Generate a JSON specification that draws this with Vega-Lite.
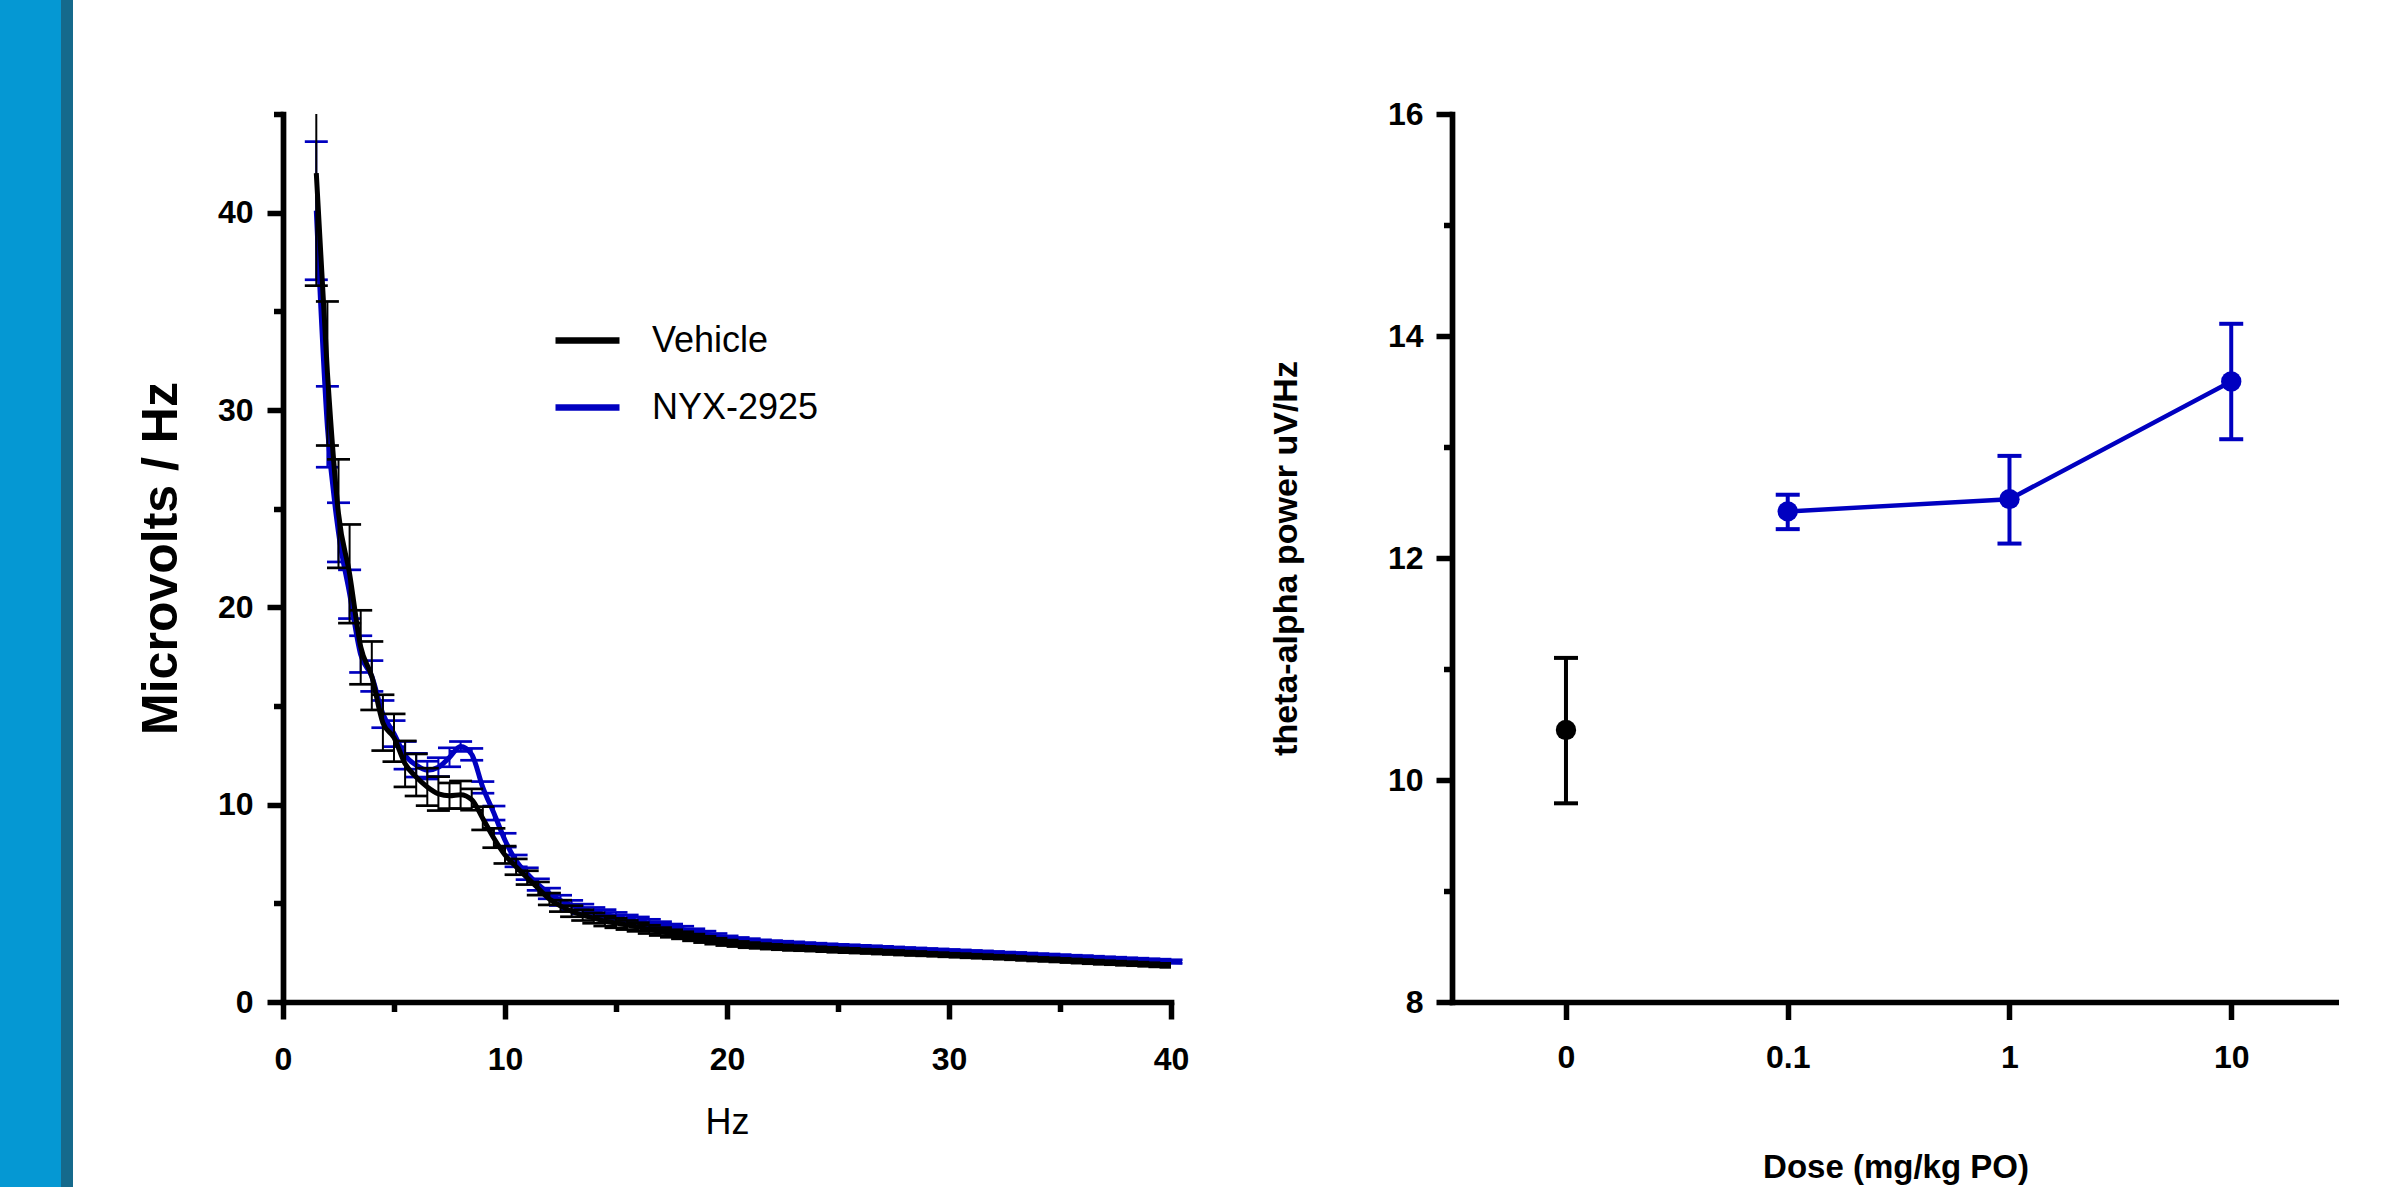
{
  "$schema": "https://vega.github.io/schema/vega-lite/v6.json",
  "padding": 0,
  "background": "white",
  "spacing": 0,
  "config": {
    "view": {"stroke": null},
    "font": "Liberation Sans",
    "concat": {"spacing": 0},
    "axis": {
      "domainColor": "#000000", "domainWidth": 5.7, "domainCap": "square",
      "tickColor": "#000000", "tickWidth": 5.5,
      "labelColor": "#000000", "titleColor": "#000000",
      "labelFont": "Liberation Sans", "titleFont": "Liberation Sans",
      "labelFontSize": 32, "labelFontWeight": "bold",
      "grid": false, "labelFlush": false, "labelOverlap": false
    }
  },
  "datasets": {
    "spectrum": [
      {"f":1.5,"g":"Vehicle","m":42.0,"lo":36.3,"hi":47.7},
      {"f":2.0,"g":"Vehicle","m":31.9,"lo":28.2,"hi":35.5},
      {"f":2.5,"g":"Vehicle","m":24.75,"lo":22.0,"hi":27.5},
      {"f":3.0,"g":"Vehicle","m":21.7,"lo":19.2,"hi":24.2},
      {"f":3.5,"g":"Vehicle","m":18.0,"lo":16.1,"hi":19.85},
      {"f":4.0,"g":"Vehicle","m":16.5,"lo":14.8,"hi":18.27},
      {"f":4.5,"g":"Vehicle","m":14.15,"lo":12.74,"hi":15.57},
      {"f":5.0,"g":"Vehicle","m":13.4,"lo":12.18,"hi":14.6},
      {"f":5.5,"g":"Vehicle","m":12.07,"lo":10.9,"hi":13.23},
      {"f":6.0,"g":"Vehicle","m":11.4,"lo":10.44,"hi":12.57},
      {"f":6.5,"g":"Vehicle","m":10.9,"lo":9.95,"hi":11.85},
      {"f":7.0,"g":"Vehicle","m":10.55,"lo":9.7,"hi":11.42},
      {"f":7.5,"g":"Vehicle","m":10.45,"lo":9.8,"hi":11.1},
      {"f":8.0,"g":"Vehicle","m":10.5,"lo":9.8,"hi":11.2},
      {"f":8.5,"g":"Vehicle","m":10.25,"lo":9.72,"hi":10.8},
      {"f":9.0,"g":"Vehicle","m":9.3,"lo":8.72,"hi":9.9},
      {"f":9.5,"g":"Vehicle","m":8.3,"lo":7.82,"hi":8.8},
      {"f":10.0,"g":"Vehicle","m":7.45,"lo":7.02,"hi":7.9},
      {"f":10.5,"g":"Vehicle","m":6.85,"lo":6.45,"hi":7.25},
      {"f":11.0,"g":"Vehicle","m":6.3,"lo":5.95,"hi":6.65},
      {"f":11.5,"g":"Vehicle","m":5.75,"lo":5.42,"hi":6.08},
      {"f":12.0,"g":"Vehicle","m":5.22,"lo":4.92,"hi":5.52},
      {"f":12.5,"g":"Vehicle","m":4.87,"lo":4.58,"hi":5.16},
      {"f":13.0,"g":"Vehicle","m":4.6,"lo":4.32,"hi":4.88},
      {"f":13.5,"g":"Vehicle","m":4.4,"lo":4.13,"hi":4.67},
      {"f":14.0,"g":"Vehicle","m":4.25,"lo":3.99,"hi":4.51},
      {"f":14.5,"g":"Vehicle","m":4.1,"lo":3.85,"hi":4.35},
      {"f":15.0,"g":"Vehicle","m":4.0,"lo":3.76,"hi":4.24},
      {"f":15.5,"g":"Vehicle","m":3.9,"lo":3.67,"hi":4.13},
      {"f":16.0,"g":"Vehicle","m":3.8,"lo":3.58,"hi":4.02},
      {"f":16.5,"g":"Vehicle","m":3.68,"lo":3.47,"hi":3.89},
      {"f":17.0,"g":"Vehicle","m":3.57,"lo":3.37,"hi":3.77},
      {"f":17.5,"g":"Vehicle","m":3.47,"lo":3.28,"hi":3.66},
      {"f":18.0,"g":"Vehicle","m":3.38,"lo":3.2,"hi":3.56},
      {"f":18.5,"g":"Vehicle","m":3.27,"lo":3.1,"hi":3.44},
      {"f":19.0,"g":"Vehicle","m":3.17,"lo":3.01,"hi":3.33},
      {"f":19.5,"g":"Vehicle","m":3.08,"lo":2.93,"hi":3.23},
      {"f":20.0,"g":"Vehicle","m":3.0,"lo":2.86,"hi":3.14},
      {"f":20.5,"g":"Vehicle","m":2.94,"lo":2.81,"hi":3.07},
      {"f":21.0,"g":"Vehicle","m":2.88,"lo":2.75,"hi":3.01},
      {"f":21.5,"g":"Vehicle","m":2.84,"lo":2.72,"hi":2.96},
      {"f":22.0,"g":"Vehicle","m":2.8,"lo":2.68,"hi":2.92},
      {"f":22.5,"g":"Vehicle","m":2.77,"lo":2.65,"hi":2.89},
      {"f":23.0,"g":"Vehicle","m":2.74,"lo":2.62,"hi":2.86},
      {"f":23.5,"g":"Vehicle","m":2.71,"lo":2.6,"hi":2.82},
      {"f":24.0,"g":"Vehicle","m":2.69,"lo":2.58,"hi":2.8},
      {"f":24.5,"g":"Vehicle","m":2.66,"lo":2.55,"hi":2.77},
      {"f":25.0,"g":"Vehicle","m":2.63,"lo":2.52,"hi":2.74},
      {"f":25.5,"g":"Vehicle","m":2.61,"lo":2.5,"hi":2.72},
      {"f":26.0,"g":"Vehicle","m":2.58,"lo":2.48,"hi":2.68},
      {"f":26.5,"g":"Vehicle","m":2.56,"lo":2.46,"hi":2.66},
      {"f":27.0,"g":"Vehicle","m":2.53,"lo":2.43,"hi":2.63},
      {"f":27.5,"g":"Vehicle","m":2.51,"lo":2.41,"hi":2.61},
      {"f":28.0,"g":"Vehicle","m":2.48,"lo":2.38,"hi":2.58},
      {"f":28.5,"g":"Vehicle","m":2.46,"lo":2.36,"hi":2.56},
      {"f":29.0,"g":"Vehicle","m":2.43,"lo":2.34,"hi":2.52},
      {"f":29.5,"g":"Vehicle","m":2.41,"lo":2.32,"hi":2.5},
      {"f":30.0,"g":"Vehicle","m":2.38,"lo":2.29,"hi":2.47},
      {"f":30.5,"g":"Vehicle","m":2.36,"lo":2.27,"hi":2.45},
      {"f":31.0,"g":"Vehicle","m":2.33,"lo":2.24,"hi":2.42},
      {"f":31.5,"g":"Vehicle","m":2.31,"lo":2.22,"hi":2.4},
      {"f":32.0,"g":"Vehicle","m":2.28,"lo":2.19,"hi":2.37},
      {"f":32.5,"g":"Vehicle","m":2.26,"lo":2.17,"hi":2.35},
      {"f":33.0,"g":"Vehicle","m":2.23,"lo":2.14,"hi":2.32},
      {"f":33.5,"g":"Vehicle","m":2.2,"lo":2.11,"hi":2.29},
      {"f":34.0,"g":"Vehicle","m":2.17,"lo":2.08,"hi":2.26},
      {"f":34.5,"g":"Vehicle","m":2.15,"lo":2.06,"hi":2.24},
      {"f":35.0,"g":"Vehicle","m":2.12,"lo":2.03,"hi":2.21},
      {"f":35.5,"g":"Vehicle","m":2.09,"lo":2.0,"hi":2.18},
      {"f":36.0,"g":"Vehicle","m":2.06,"lo":1.97,"hi":2.15},
      {"f":36.5,"g":"Vehicle","m":2.03,"lo":1.94,"hi":2.12},
      {"f":37.0,"g":"Vehicle","m":2.0,"lo":1.91,"hi":2.09},
      {"f":37.5,"g":"Vehicle","m":1.98,"lo":1.89,"hi":2.07},
      {"f":38.0,"g":"Vehicle","m":1.95,"lo":1.86,"hi":2.04},
      {"f":38.5,"g":"Vehicle","m":1.93,"lo":1.84,"hi":2.02},
      {"f":39.0,"g":"Vehicle","m":1.9,"lo":1.81,"hi":1.99},
      {"f":39.5,"g":"Vehicle","m":1.87,"lo":1.78,"hi":1.96},
      {"f":40.0,"g":"Vehicle","m":1.85,"lo":1.76,"hi":1.94},
      {"f":1.5,"g":"NYX-2925","m":40.1,"lo":36.6,"hi":43.6},
      {"f":2.0,"g":"NYX-2925","m":29.15,"lo":27.1,"hi":31.2},
      {"f":2.5,"g":"NYX-2925","m":23.8,"lo":22.3,"hi":25.3},
      {"f":3.0,"g":"NYX-2925","m":20.7,"lo":19.43,"hi":21.9},
      {"f":3.5,"g":"NYX-2925","m":17.6,"lo":16.7,"hi":18.56},
      {"f":4.0,"g":"NYX-2925","m":16.5,"lo":15.74,"hi":17.3},
      {"f":4.5,"g":"NYX-2925","m":14.6,"lo":13.9,"hi":15.28},
      {"f":5.0,"g":"NYX-2925","m":13.6,"lo":12.94,"hi":14.26},
      {"f":5.5,"g":"NYX-2925","m":12.5,"lo":11.8,"hi":13.2},
      {"f":6.0,"g":"NYX-2925","m":12.0,"lo":11.4,"hi":12.6},
      {"f":6.5,"g":"NYX-2925","m":11.75,"lo":11.3,"hi":12.2},
      {"f":7.0,"g":"NYX-2925","m":11.9,"lo":11.42,"hi":12.38},
      {"f":7.5,"g":"NYX-2925","m":12.4,"lo":11.92,"hi":12.88},
      {"f":8.0,"g":"NYX-2925","m":12.95,"lo":12.7,"hi":13.2},
      {"f":8.5,"g":"NYX-2925","m":12.55,"lo":12.25,"hi":12.85},
      {"f":9.0,"g":"NYX-2925","m":10.88,"lo":10.58,"hi":11.17},
      {"f":9.5,"g":"NYX-2925","m":9.57,"lo":9.22,"hi":9.93},
      {"f":10.0,"g":"NYX-2925","m":8.2,"lo":7.85,"hi":8.55},
      {"f":10.5,"g":"NYX-2925","m":7.15,"lo":6.85,"hi":7.45},
      {"f":11.0,"g":"NYX-2925","m":6.5,"lo":6.2,"hi":6.8},
      {"f":11.5,"g":"NYX-2925","m":5.95,"lo":5.66,"hi":6.24},
      {"f":12.0,"g":"NYX-2925","m":5.5,"lo":5.23,"hi":5.77},
      {"f":12.5,"g":"NYX-2925","m":5.15,"lo":4.89,"hi":5.41},
      {"f":13.0,"g":"NYX-2925","m":4.9,"lo":4.65,"hi":5.15},
      {"f":13.5,"g":"NYX-2925","m":4.72,"lo":4.48,"hi":4.96},
      {"f":14.0,"g":"NYX-2925","m":4.56,"lo":4.33,"hi":4.79},
      {"f":14.5,"g":"NYX-2925","m":4.45,"lo":4.22,"hi":4.68},
      {"f":15.0,"g":"NYX-2925","m":4.32,"lo":4.1,"hi":4.54},
      {"f":15.5,"g":"NYX-2925","m":4.2,"lo":3.99,"hi":4.41},
      {"f":16.0,"g":"NYX-2925","m":4.1,"lo":3.89,"hi":4.31},
      {"f":16.5,"g":"NYX-2925","m":3.99,"lo":3.79,"hi":4.19},
      {"f":17.0,"g":"NYX-2925","m":3.88,"lo":3.69,"hi":4.07},
      {"f":17.5,"g":"NYX-2925","m":3.77,"lo":3.59,"hi":3.95},
      {"f":18.0,"g":"NYX-2925","m":3.67,"lo":3.5,"hi":3.84},
      {"f":18.5,"g":"NYX-2925","m":3.55,"lo":3.39,"hi":3.71},
      {"f":19.0,"g":"NYX-2925","m":3.44,"lo":3.29,"hi":3.59},
      {"f":19.5,"g":"NYX-2925","m":3.33,"lo":3.19,"hi":3.47},
      {"f":20.0,"g":"NYX-2925","m":3.22,"lo":3.09,"hi":3.35},
      {"f":20.5,"g":"NYX-2925","m":3.15,"lo":3.03,"hi":3.27},
      {"f":21.0,"g":"NYX-2925","m":3.09,"lo":2.97,"hi":3.21},
      {"f":21.5,"g":"NYX-2925","m":3.04,"lo":2.93,"hi":3.15},
      {"f":22.0,"g":"NYX-2925","m":3.0,"lo":2.89,"hi":3.11},
      {"f":22.5,"g":"NYX-2925","m":2.97,"lo":2.86,"hi":3.08},
      {"f":23.0,"g":"NYX-2925","m":2.94,"lo":2.83,"hi":3.05},
      {"f":23.5,"g":"NYX-2925","m":2.91,"lo":2.81,"hi":3.01},
      {"f":24.0,"g":"NYX-2925","m":2.88,"lo":2.78,"hi":2.98},
      {"f":24.5,"g":"NYX-2925","m":2.85,"lo":2.75,"hi":2.95},
      {"f":25.0,"g":"NYX-2925","m":2.82,"lo":2.72,"hi":2.92},
      {"f":25.5,"g":"NYX-2925","m":2.8,"lo":2.7,"hi":2.9},
      {"f":26.0,"g":"NYX-2925","m":2.77,"lo":2.67,"hi":2.87},
      {"f":26.5,"g":"NYX-2925","m":2.75,"lo":2.65,"hi":2.85},
      {"f":27.0,"g":"NYX-2925","m":2.72,"lo":2.62,"hi":2.82},
      {"f":27.5,"g":"NYX-2925","m":2.7,"lo":2.61,"hi":2.79},
      {"f":28.0,"g":"NYX-2925","m":2.67,"lo":2.58,"hi":2.76},
      {"f":28.5,"g":"NYX-2925","m":2.65,"lo":2.56,"hi":2.74},
      {"f":29.0,"g":"NYX-2925","m":2.62,"lo":2.53,"hi":2.71},
      {"f":29.5,"g":"NYX-2925","m":2.6,"lo":2.51,"hi":2.69},
      {"f":30.0,"g":"NYX-2925","m":2.57,"lo":2.48,"hi":2.66},
      {"f":30.5,"g":"NYX-2925","m":2.55,"lo":2.46,"hi":2.64},
      {"f":31.0,"g":"NYX-2925","m":2.52,"lo":2.43,"hi":2.61},
      {"f":31.5,"g":"NYX-2925","m":2.5,"lo":2.41,"hi":2.59},
      {"f":32.0,"g":"NYX-2925","m":2.47,"lo":2.38,"hi":2.56},
      {"f":32.5,"g":"NYX-2925","m":2.44,"lo":2.35,"hi":2.53},
      {"f":33.0,"g":"NYX-2925","m":2.42,"lo":2.33,"hi":2.51},
      {"f":33.5,"g":"NYX-2925","m":2.39,"lo":2.3,"hi":2.48},
      {"f":34.0,"g":"NYX-2925","m":2.36,"lo":2.27,"hi":2.45},
      {"f":34.5,"g":"NYX-2925","m":2.34,"lo":2.25,"hi":2.43},
      {"f":35.0,"g":"NYX-2925","m":2.31,"lo":2.22,"hi":2.4},
      {"f":35.5,"g":"NYX-2925","m":2.28,"lo":2.19,"hi":2.37},
      {"f":36.0,"g":"NYX-2925","m":2.26,"lo":2.17,"hi":2.35},
      {"f":36.5,"g":"NYX-2925","m":2.23,"lo":2.14,"hi":2.32},
      {"f":37.0,"g":"NYX-2925","m":2.2,"lo":2.11,"hi":2.29},
      {"f":37.5,"g":"NYX-2925","m":2.18,"lo":2.09,"hi":2.27},
      {"f":38.0,"g":"NYX-2925","m":2.15,"lo":2.06,"hi":2.24},
      {"f":38.5,"g":"NYX-2925","m":2.13,"lo":2.04,"hi":2.22},
      {"f":39.0,"g":"NYX-2925","m":2.1,"lo":2.01,"hi":2.19},
      {"f":39.5,"g":"NYX-2925","m":2.08,"lo":1.99,"hi":2.17},
      {"f":40.0,"g":"NYX-2925","m":2.05,"lo":1.96,"hi":2.14},
      {"f":40.5,"g":"NYX-2925","m":2.03,"lo":2.03,"hi":2.03}
    ],
    "dose": [
      {"d":"0","g":"Vehicle","m":10.45,"lo":9.79,"hi":11.1},
      {"d":"0.1","g":"NYX-2925","m":12.42,"lo":12.26,"hi":12.57},
      {"d":"1","g":"NYX-2925","m":12.53,"lo":12.13,"hi":12.92},
      {"d":"10","g":"NYX-2925","m":13.59,"lo":13.07,"hi":14.11}
    ]
  },
  "hconcat": [
    {"width": 61, "height": 1187, "view": {"fill": "#0598D3", "stroke": null}, "data": {"values": []}, "mark": "rect", "encoding": {}},
    {"width": 12, "height": 1187, "view": {"fill": "#156A8C", "stroke": null}, "data": {"values": []}, "mark": "rect", "encoding": {}},
    {"width": 63, "height": 10, "data": {"values": []}, "mark": "rect", "encoding": {}},
    {
      "spacing": 0,
      "vconcat": [
        {"width": 10, "height": 98, "data": {"values": []}, "mark": "rect", "encoding": {}},
        {
          "spacing": 76,
          "hconcat": [
            {
              "width": 888, "height": 888,
              "data": {"name": "spectrum"},
              "layer": [
                {
                  "transform": [{"filter": "datum.g === 'NYX-2925' && datum.f <= 40"}],
                  "mark": {"type": "rule", "strokeWidth": 2, "color": "#0000C0"},
                  "encoding": {
                    "x": {"field": "f", "type": "quantitative", "title": "Hz",
                      "scale": {"domain": [0, 40], "nice": false, "zero": false},
                      "axis": {"values": [0,5,10,15,20,25,30,35,40],
                        "labelExpr": "datum.value % 10 === 0 ? datum.label : ''",
                        "tickSize": {"condition": {"test": "datum.value % 10 === 0", "value": 17}, "value": 9.5},
                        "labelPadding": 25, "titleFontSize": 36, "titleFontWeight": "normal", "titlePadding": 30}},
                    "y": {"field": "lo", "type": "quantitative", "title": "Microvolts / Hz",
                      "scale": {"domain": [0, 45], "nice": false},
                      "axis": {"values": [0,5,10,15,20,25,30,35,40,45],
                        "labelExpr": "datum.value % 10 === 0 ? datum.label : ''",
                        "tickSize": {"condition": {"test": "datum.value % 10 === 0", "value": 16}, "value": 9.5},
                        "labelPadding": 14, "titleFontSize": 50, "titleFontWeight": "bold", "titlePadding": 31}},
                    "y2": {"field": "hi"}
                  }
                },
                {
                  "transform": [{"filter": "datum.g === 'NYX-2925' && datum.f <= 40"}, {"fold": ["lo", "hi"], "as": ["k", "v"]}],
                  "mark": {"type": "tick", "orient": "horizontal", "size": 23, "thickness": 2.7, "color": "#0000C0", "opacity": 1},
                  "encoding": {
                    "x": {"field": "f", "type": "quantitative", "title": "Hz"},
                    "y": {"field": "v", "type": "quantitative", "title": "Microvolts / Hz"}
                  }
                },
                {
                  "transform": [{"filter": "datum.g === 'NYX-2925'"}],
                  "mark": {"type": "line", "strokeWidth": 5, "interpolate": "monotone"},
                  "encoding": {
                    "x": {"field": "f", "type": "quantitative", "title": "Hz"},
                    "y": {"field": "m", "type": "quantitative", "title": "Microvolts / Hz"},
                    "color": {"field": "g", "type": "nominal",
                      "scale": {"domain": ["Vehicle", "NYX-2925"], "range": ["#000000", "#0000C0"]},
                      "legend": {"orient": "none", "legendX": 552, "legendY": 305, "title": null,
                        "symbolType": "stroke", "symbolSize": 4096, "symbolStrokeWidth": 6.5, "symbolOpacity": 1,
                        "labelFontSize": 36, "labelFont": "Liberation Sans", "labelColor": "#000000", "labelFontWeight": "normal",
                        "labelOffset": 29, "rowPadding": 13, "padding": 0, "labelLimit": 0}}
                  }
                },
                {
                  "transform": [{"filter": "datum.g === 'Vehicle'"}],
                  "mark": {"type": "rule", "strokeWidth": 2, "clip": true, "color": "#000000"},
                  "encoding": {
                    "x": {"field": "f", "type": "quantitative", "title": "Hz"},
                    "y": {"field": "lo", "type": "quantitative", "title": "Microvolts / Hz"},
                    "y2": {"field": "hi"}
                  }
                },
                {
                  "transform": [{"filter": "datum.g === 'Vehicle'"}, {"fold": ["lo", "hi"], "as": ["k", "v"]}],
                  "mark": {"type": "tick", "orient": "horizontal", "size": 23, "thickness": 2.7, "clip": true, "color": "#000000", "opacity": 1},
                  "encoding": {
                    "x": {"field": "f", "type": "quantitative", "title": "Hz"},
                    "y": {"field": "v", "type": "quantitative", "title": "Microvolts / Hz"}
                  }
                },
                {
                  "transform": [{"filter": "datum.g === 'Vehicle'"}],
                  "mark": {"type": "line", "strokeWidth": 5, "interpolate": "monotone", "clip": true},
                  "encoding": {
                    "x": {"field": "f", "type": "quantitative", "title": "Hz"},
                    "y": {"field": "m", "type": "quantitative", "title": "Microvolts / Hz"},
                    "color": {"field": "g", "type": "nominal",
                      "legend": {"orient": "none", "legendX": 552, "legendY": 305, "title": null,
                        "symbolType": "stroke", "symbolSize": 4096, "symbolStrokeWidth": 6.5, "symbolOpacity": 1,
                        "labelFontSize": 36, "labelFont": "Liberation Sans", "labelColor": "#000000", "labelFontWeight": "normal",
                        "labelOffset": 29, "rowPadding": 13, "padding": 0, "labelLimit": 0}}
                  }
                }
              ]
            },
            {
              "width": 887, "height": 888,
              "data": {"name": "dose"},
              "layer": [
                {
                  "mark": {"type": "rule", "strokeWidth": 4},
                  "encoding": {
                    "x": {"field": "d", "type": "ordinal", "title": "Dose (mg/kg PO)", "sort": ["0", "0.1", "1", "10"],
                      "scale": {"type": "point", "padding": 0.5, "align": 0.514},
                      "axis": {"labelAngle": 0, "tickSize": 17.5, "labelPadding": 23,
                        "titleFontSize": 33, "titleFontWeight": "bold", "titlePadding": 78}},
                    "y": {"field": "lo", "type": "quantitative", "title": "theta-alpha power uV/Hz",
                      "scale": {"domain": [8, 16], "nice": false, "zero": false},
                      "axis": {"values": [8,9,10,11,12,13,14,15,16], "format": "d",
                        "labelExpr": "datum.value % 2 === 0 ? datum.label : ''",
                        "tickSize": {"condition": {"test": "datum.value % 2 === 0", "value": 16}, "value": 8.5},
                        "labelPadding": 13, "titleFontSize": 34, "titleFontWeight": "bold", "titlePadding": 84}},
                    "y2": {"field": "hi"},
                    "color": {"condition": {"test": "datum.g === 'Vehicle'", "value": "#000000"}, "value": "#0000C0"}
                  }
                },
                {
                  "transform": [{"fold": ["lo", "hi"], "as": ["k", "v"]}],
                  "mark": {"type": "tick", "orient": "horizontal", "size": 24, "thickness": 4, "opacity": 1},
                  "encoding": {
                    "x": {"field": "d", "type": "ordinal", "title": "Dose (mg/kg PO)", "sort": ["0", "0.1", "1", "10"]},
                    "y": {"field": "v", "type": "quantitative", "title": "theta-alpha power uV/Hz"},
                    "color": {"condition": {"test": "datum.g === 'Vehicle'", "value": "#000000"}, "value": "#0000C0"}
                  }
                },
                {
                  "transform": [{"filter": "datum.g === 'NYX-2925'"}],
                  "mark": {"type": "line", "strokeWidth": 4.5, "color": "#0000C0"},
                  "encoding": {
                    "x": {"field": "d", "type": "ordinal", "title": "Dose (mg/kg PO)", "sort": ["0", "0.1", "1", "10"]},
                    "y": {"field": "m", "type": "quantitative", "title": "theta-alpha power uV/Hz"}
                  }
                },
                {
                  "mark": {"type": "point", "filled": true, "size": 415, "opacity": 1},
                  "encoding": {
                    "x": {"field": "d", "type": "ordinal", "title": "Dose (mg/kg PO)", "sort": ["0", "0.1", "1", "10"]},
                    "y": {"field": "m", "type": "quantitative", "title": "theta-alpha power uV/Hz"},
                    "color": {"condition": {"test": "datum.g === 'Vehicle'", "value": "#000000"}, "value": "#0000C0"}
                  }
                }
              ]
            }
          ]
        }
      ]
    }
  ]
}
